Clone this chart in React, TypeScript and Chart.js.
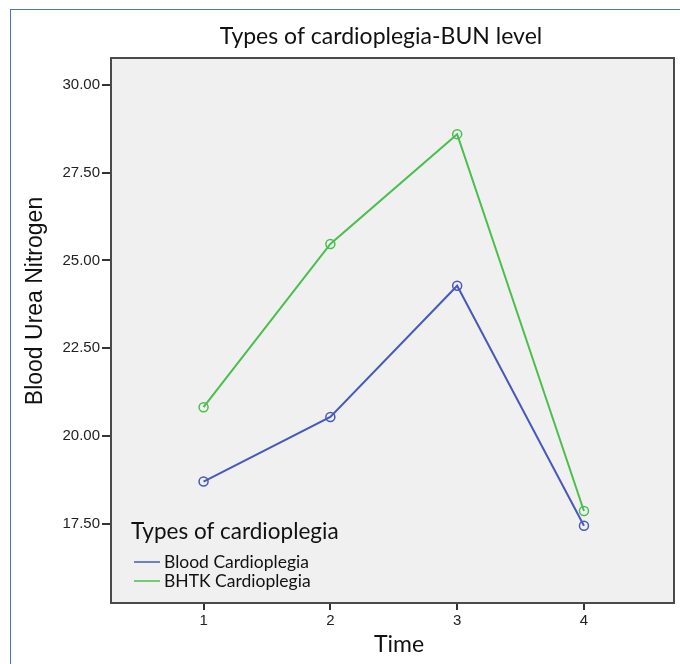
import React, { useEffect, useRef } from "react";
import { Chart, registerables } from "chart.js";

Chart.register(...registerables);

const chartTitle = "Types of cardioplegia-BUN level";
const xTitle = "Time";
const yTitle = "Blood Urea Nitrogen";
const legendTitle = "Types of cardioplegia";
const timePoints = [1, 2, 3, 4];
const seriesNames = ["Blood Cardioplegia", "BHTK Cardioplegia"];
const bloodValues = [18.7, 20.54, 24.28, 17.44];
const bhtkValues = [20.82, 25.47, 28.6, 17.86];
const yTickValues = [17.5, 20, 22.5, 25, 27.5, 30];
const xTickValues = [1, 2, 3, 4];
const seriesColors = ["#4759bd", "#49bf4c"];

const decorPlugin = {
  id: "decor",
  beforeDraw(chart: any) {
    const { ctx, chartArea: a } = chart;
    ctx.save();
    ctx.fillStyle = "#f0f0f0";
    ctx.fillRect(a.left, a.top, a.right - a.left, a.bottom - a.top);
    ctx.restore();
  },
  afterDraw(chart: any) {
    const { ctx, chartArea: a } = chart;
    ctx.save();
    ctx.strokeStyle = "#4a4a4a";
    ctx.lineWidth = 2;
    ctx.strokeRect(a.left, a.top, a.right - a.left, a.bottom - a.top);

    // title
    ctx.fillStyle = "#111";
    ctx.textAlign = "center";
    ctx.textBaseline = "middle";
    ctx.font = "23px Lato, 'Open Sans', sans-serif";
    ctx.fillText(chartTitle, 381, 37);

    // x title
    ctx.font = "23px Lato, 'Open Sans', sans-serif";
    ctx.fillText(xTitle, 399, 645);

    // y title
    ctx.save();
    ctx.translate(36, 301);
    ctx.rotate(-Math.PI / 2);
    ctx.font = "23px 'Liberation Sans', Arial, sans-serif";
    ctx.fillText(yTitle, 0, 0);
    ctx.restore();

    // legend
    ctx.textAlign = "left";
    ctx.font = "22.5px Lato, 'Open Sans', sans-serif";
    ctx.fillStyle = "#111";
    ctx.fillText(legendTitle, a.left + 20, 532);
    ctx.font = "17.5px Lato, 'Open Sans', sans-serif";
    chart.data.datasets.forEach((ds: any, i: number) => {
      const y = 562 + i * 19;
      ctx.strokeStyle = ds.borderColor;
      ctx.lineWidth = 1.5;
      ctx.beginPath();
      ctx.moveTo(a.left + 23, y);
      ctx.lineTo(a.left + 49, y);
      ctx.stroke();
      ctx.fillStyle = "#111";
      ctx.fillText(ds.label, a.left + 53, y);
    });
    ctx.restore();
  },
};

export default function App() {
  const ref = useRef<HTMLCanvasElement>(null);
  useEffect(() => {
    if (!ref.current) return;
    const mk = (vals: number[]) => timePoints.map((t, i) => ({ x: t, y: vals[i] }));
    const chart = new Chart(ref.current, {
      type: "line",
      data: {
        datasets: [
          {
            label: seriesNames[0],
            data: mk(bloodValues),
            borderColor: seriesColors[0],
            backgroundColor: "rgba(0,0,0,0)",
            pointBorderColor: seriesColors[0],
            pointBackgroundColor: "rgba(0,0,0,0)",
            borderWidth: 2,
            pointRadius: 4.5,
            pointBorderWidth: 1.5,
          },
          {
            label: seriesNames[1],
            data: mk(bhtkValues),
            borderColor: seriesColors[1],
            backgroundColor: "rgba(0,0,0,0)",
            pointBorderColor: seriesColors[1],
            pointBackgroundColor: "rgba(0,0,0,0)",
            borderWidth: 2,
            pointRadius: 4.5,
            pointBorderWidth: 1.5,
          },
        ],
      },
      options: {
        responsive: false,
        animation: false,
        layout: { padding: { top: 58, right: 6, left: 0, bottom: 0 } },
        plugins: { legend: { display: false }, title: { display: false }, tooltip: { enabled: false } },
        scales: {
          x: {
            type: "linear",
            min: 0.27,
            max: 4.71,
            afterBuildTicks: (s: any) => {
              s.ticks = xTickValues.map((v) => ({ value: v }));
            },
            afterFit: (s: any) => {
              s.height = 61;
            },
            grid: { drawOnChartArea: false, drawTicks: true, tickLength: 7, color: "#333", lineWidth: 2 },
            border: { display: false },
            ticks: {
              color: "#222",
              font: { family: "'Liberation Sans', Arial, sans-serif", size: 15 },
              padding: 2,
              callback: (v: any) => String(v),
            },
          },
          y: {
            type: "linear",
            min: 15.24,
            max: 30.77,
            afterBuildTicks: (s: any) => {
              s.ticks = yTickValues.map((v) => ({ value: v }));
            },
            afterFit: (s: any) => {
              s.width = 111;
            },
            grid: { drawOnChartArea: false, drawTicks: true, tickLength: 9, color: "#333", lineWidth: 2 },
            border: { display: false },
            ticks: {
              color: "#222",
              font: { family: "'Liberation Sans', Arial, sans-serif", size: 15 },
              padding: 2,
              callback: (v: any) => Number(v).toFixed(2),
            },
          },
        },
      },
      plugins: [decorPlugin],
    });
    return () => chart.destroy();
  }, []);
  return (
    <div style={{ position: "fixed", left: 0, top: 0, width: 680, height: 664, background: "#fff" }}>
      <div
        style={{
          position: "absolute",
          left: 10,
          top: 9,
          right: 0,
          bottom: 0,
          borderTop: "1.5px solid #4a72c8",
          borderLeft: "1.5px solid #4a72c8",
        }}
      />
      <canvas ref={ref} width={680} height={664} style={{ position: "absolute", left: 0, top: 0 }} />
    </div>
  );
}
